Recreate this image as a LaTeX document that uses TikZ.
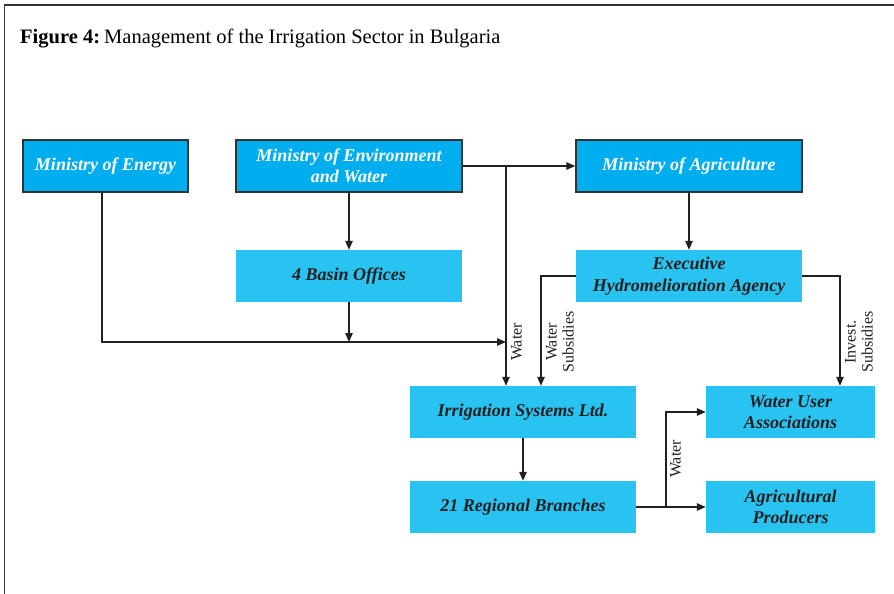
\documentclass[tikz,border=0pt]{standalone}
\usepackage{fontspec}
\setmainfont{Liberation Serif}
\usetikzlibrary{arrows.meta}
\definecolor{darkbox}{HTML}{00AEEF}
\definecolor{lightbox}{HTML}{28C3F1}
\definecolor{ink}{HTML}{231F20}
\definecolor{edge}{HTML}{333333}
\tikzset{
  minbox/.style={draw=edge, line width=1.4pt, fill=darkbox, text=white, minimum height=52pt, inner sep=0pt, align=center, font=\fontsize{18}{21.5}\selectfont\bfseries\itshape},
  subbox/.style={fill=lightbox, text=ink, minimum height=52pt, inner sep=0pt, align=center, font=\fontsize{18}{21.5}\selectfont\bfseries\itshape},
  arr/.style={draw=ink, line width=1.2pt, -{Triangle[length=9pt,width=7.5pt]}},
  lab/.style={rotate=90, text=ink, inner sep=0pt, align=center, font=\fontsize{16}{17}\selectfont}
}
\begin{document}
\begin{tikzpicture}[x=1pt,y=-1pt]
\useasboundingbox (0,0) rectangle (894,594);
\draw[edge, line width=1.5pt] (4.5,600) -- (4.5,5) -- (900,5);
\node[anchor=base west, inner sep=0pt, font=\fontsize{20.5}{24}\selectfont] (title) at (20,44) {\textbf{Figure 4:}\hspace{0.2em}Management of the Irrigation Sector in Bulgaria};
\node[minbox, minimum width=165pt] (energy) at (105.5,166) {Ministry of Energy};
\node[minbox, minimum width=226pt] (env) at (349,166) {Ministry of Environment\\and Water};
\node[minbox, minimum width=226pt] (agri) at (689,166) {Ministry of Agriculture};
\node[subbox, minimum width=226pt] (basin) at (349,276) {4 Basin Offices};
\node[subbox, minimum width=226pt] (agency) at (689,276) {Executive\\Hydromelioration Agency};
\node[subbox, minimum width=226pt] (irr) at (523,412) {Irrigation Systems Ltd.};
\node[subbox, minimum width=226pt] (reg) at (523,507) {21 Regional Branches};
\node[subbox, minimum width=169pt] (wua) at (790.5,412) {Water User\\Associations};
\node[subbox, minimum width=169pt] (prod) at (790.5,507) {Agricultural\\Producers};
\coordinate (j1) at (506,166);
\coordinate (j2) at (349,342);
\coordinate (j3) at (506,342);
\coordinate (j4) at (666,507);
\draw[arr] (env.east) -- (agri.west);
\draw[arr] (j1) -- (j1 |- irr.north);
\draw[arr] (env.south) -- (basin.north);
\draw[arr] (basin.south) -- (j2);
\draw[arr] ([xshift=-3.5pt]energy.south) |- (j3);
\draw[arr] (agri.south) -- (agency.north);
\draw[arr] (agency.west) -| ([xshift=18pt]irr.north);
\draw[arr] (agency.east) -| ([xshift=49.5pt]wua.north);
\draw[arr] (irr.south) -- (reg.north);
\draw[arr] (reg.east) -- (prod.west);
\draw[arr] (j4) |- (wua.west);
\node[lab, anchor=north] (l1) at (511,342) {Water};
\node[lab, anchor=north] (l2) at (546,342) {Water\\Subsidies};
\node[lab, anchor=north] (l3) at (845,342) {Invest.\\Subsidies};
\node[lab, anchor=north] (l4) at (670,459) {Water};
\end{tikzpicture}
\end{document}
